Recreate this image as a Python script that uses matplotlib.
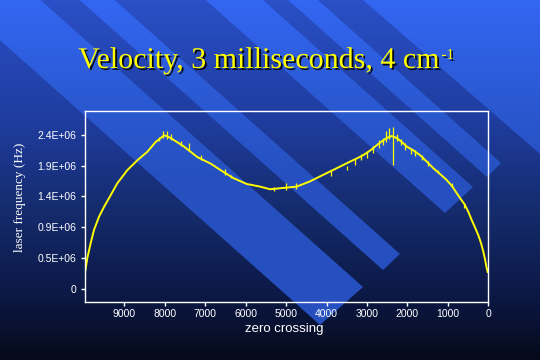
import numpy as np
import matplotlib
matplotlib.use("Agg")
import matplotlib.pyplot as plt
from matplotlib.path import Path
from matplotlib.patches import PathPatch
from matplotlib.colors import LinearSegmentedColormap
import matplotlib.patheffects as pe

# ---------------- data ----------------
zero_crossing = [9960, 9915, 9831, 9749, 9626, 9502, 9336, 9173, 8926, 8679,
                 8431, 8224, 8100, 8018, 7950, 7853, 7700, 7524, 7360, 7195,
                 7030, 6864, 6616, 6305, 5973, 5644, 5397, 5230, 5068, 4900,
                 4737, 4408, 4079, 3748, 3419, 3214, 3090, 2920, 2759, 2630,
                 2512, 2388, 2264, 2140, 2017, 1850, 1688, 1520, 1359, 1190,
                 1028, 900, 781, 680, 576, 490, 410, 330, 247, 180,
                 124, 80, 40, 15]
laser_freq = [0.29e6, 0.47e6, 0.70e6, 0.90e6, 1.10e6, 1.25e6, 1.43e6, 1.61e6, 1.81e6, 1.96e6,
              2.09e6, 2.24e6, 2.30e6, 2.34e6, 2.33e6, 2.30e6, 2.24e6, 2.17e6, 2.09e6, 2.01e6,
              1.96e6, 1.91e6, 1.81e6, 1.69e6, 1.60e6, 1.56e6, 1.52e6, 1.53e6, 1.54e6, 1.55e6,
              1.56e6, 1.64e6, 1.74e6, 1.84e6, 1.94e6, 2.00e6, 2.04e6, 2.11e6, 2.19e6, 2.25e6,
              2.30e6, 2.33e6, 2.30e6, 2.24e6, 2.17e6, 2.11e6, 2.04e6, 1.94e6, 1.84e6, 1.75e6,
              1.66e6, 1.57e6, 1.46e6, 1.37e6, 1.28e6, 1.17e6, 1.05e6, 0.94e6, 0.82e6, 0.70e6,
              0.57e6, 0.45e6, 0.32e6, 0.26e6]

# noise spikes: position, low, high
spike_x = [2363, 2446, 2520, 2600, 2700, 2850, 3000, 3150, 3300, 3500, 3900,
           7950, 8050, 8150, 7850, 7600, 7400, 7100, 6500, 6350, 5000, 4760, 5300,
           2250, 2150, 2050, 1900, 1800, 1650, 1500, 1250, 900, 600]
spike_lo = [1.89e6, 2.28e6, 2.24e6, 2.20e6, 2.15e6, 2.07e6, 1.99e6, 1.96e6, 1.89e6, 1.82e6, 1.72e6,
            2.29e6, 2.30e6, 2.25e6, 2.27e6, 2.18e6, 2.12e6, 1.97e6, 1.74e6, 1.69e6, 1.51e6, 1.52e6, 1.50e6,
            2.26e6, 2.20e6, 2.12e6, 2.06e6, 2.02e6, 1.97e6, 1.88e6, 1.76e6, 1.55e6, 1.24e6]
spike_hi = [2.47e6, 2.45e6, 2.40e6, 2.30e6, 2.27e6, 2.18e6, 2.09e6, 2.05e6, 1.99e6, 1.88e6, 1.79e6,
            2.40e6, 2.40e6, 2.32e6, 2.36e6, 2.26e6, 2.22e6, 2.04e6, 1.83e6, 1.74e6, 1.62e6, 1.62e6, 1.56e6,
            2.36e6, 2.28e6, 2.22e6, 2.13e6, 2.12e6, 2.04e6, 1.95e6, 1.82e6, 1.61e6, 1.31e6]

x_ticks = [9000, 8000, 7000, 6000, 5000, 4000, 3000, 2000, 1000, 0]
y_ticks = [0, 470000, 940000, 1410000, 1880000, 2350000]
y_tick_labels = ["0", "0.5E+06", "0.9E+06", "1.4E+06", "1.9E+06", "2.4E+06"]

title = "Velocity, 3 milliseconds, 4 cm"
title_sup = "-1"
x_label = "zero crossing"
y_label = "laser frequency (Hz)"

# ---------------- figure ----------------
W, H = 540, 360
fig = plt.figure(figsize=(5.4, 3.6), dpi=100)

bg = fig.add_axes([0, 0, 1, 1], zorder=-10)
bg.set_xlim(0, W)
bg.set_ylim(H, 0)
bg.axis("off")

bg_cmap = LinearSegmentedColormap.from_list(
    "bg", [(0.0, "#2a4fc6"), (0.33, "#1f3da0"), (0.6, "#142a6a"),
           (0.83, "#0c1844"), (1.0, "#050a1a")])
grad = np.linspace(0, 1, 360).reshape(-1, 1)
bg.imshow(grad, cmap=bg_cmap, extent=[0, W, H, 0], aspect="auto", zorder=0)

st_cmap = LinearSegmentedColormap.from_list(
    "st", [(0.0, "#3366f2"), (0.3, "#2a58d0"), (0.5, "#2650c0"), (1.0, "#2650c0")])
stripe_img = bg.imshow(grad, cmap=st_cmap, extent=[0, W, H, 0], aspect="auto", zorder=1)

s = 0.89
def stripe(lower_tip, upper_tip, back=600):
    (x1, y1), (x2, y2) = lower_tip, upper_tip
    return [(x1 - back, y1 - back * s), (x1, y1), (x2, y2), (x2 - back, y2 - back * s)]

polys = [
    stripe((320, 325), (363, 287)),
    stripe((383, 270), (400, 254)),
    stripe((445, 213), (473, 187)),
    stripe((487, 177), (501, 163)),
    [(363, 0), (363 + 300, 300 * 0.87), (800, 0)],
]
verts, codes = [], []
for p in polys:
    verts += p + [p[0]]
    codes += [Path.MOVETO] + [Path.LINETO] * (len(p) - 1) + [Path.CLOSEPOLY]
clip = PathPatch(Path(verts, codes), transform=bg.transData, facecolor="none", edgecolor="none")
bg.add_patch(clip)
stripe_img.set_clip_path(clip)

# ---------------- chart ----------------
ax = fig.add_axes([85.3 / W, 1 - 301.7 / H, (488.3 - 85.3) / W, (301.7 - 110.7) / H])
ax.set_facecolor("none")
ax.plot(zero_crossing, laser_freq, color="#ffff00", lw=1.4)
ax.vlines(spike_x, spike_lo, spike_hi, color="#ffff00", lw=0.9)

ax.set_xlim(9964, 0)
ax.set_ylim(-0.193e6, 2.716e6)
ax.set_xticks(x_ticks)
ax.set_xticklabels([str(v) for v in x_ticks])
ax.set_yticks(y_ticks)
ax.set_yticklabels(y_tick_labels)
for sp in ax.spines.values():
    sp.set_color("white")
    sp.set_linewidth(1.0)
ax.tick_params(colors="white", length=3, width=1, labelsize=7.5)
for lab in ax.get_xticklabels() + ax.get_yticklabels():
    lab.set_fontfamily("Liberation Sans")
    lab.set_color("white")
ax.tick_params(axis="x", pad=2.5)
ax.tick_params(axis="y", pad=3.5)

fig.text(284 / W, 1 - 329 / H, x_label, color="white", fontsize=9.5,
         family="Liberation Sans", ha="center", va="center")
fig.text(20 / W, 1 - 197 / H, y_label, color="white", fontsize=9.5,
         family="Liberation Serif", ha="center", va="center", rotation=90)

shadow = [pe.withSimplePatchShadow(offset=(1.3, -1.3), shadow_rgbFace="black", alpha=0.9)]
t = fig.text(259 / W, 1 - 68 / H, title, color="#ffff00",
             fontsize=21.6, family="Liberation Serif", ha="center", va="baseline",
             path_effects=shadow)
fig.canvas.draw()
bb = t.get_window_extent()
fig.text((bb.x1 + 1.5) / W, 1 - 59 / H, title_sup, color="#ffff00",
         fontsize=11, family="Liberation Serif", ha="left", va="baseline",
         path_effects=shadow)

fig.savefig("out.png", dpi=100)
